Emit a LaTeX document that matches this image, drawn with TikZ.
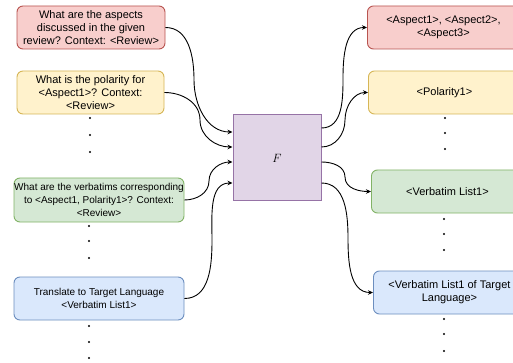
\documentclass[tikz,border=0pt]{standalone}
\usepackage{fontspec}
\setmainfont{Liberation Sans}
\usetikzlibrary{arrows.meta}
\definecolor{redfill}{HTML}{F8CECC}
\definecolor{redline}{HTML}{B85450}
\definecolor{yelfill}{HTML}{FFF2CC}
\definecolor{yelline}{HTML}{D6B656}
\definecolor{grnfill}{HTML}{D5E8D4}
\definecolor{grnline}{HTML}{82B366}
\definecolor{blufill}{HTML}{DAE8FC}
\definecolor{bluline}{HTML}{6C8EBF}
\definecolor{purfill}{HTML}{E1D5E7}
\definecolor{purline}{HTML}{9673A6}
\begin{document}
\begin{tikzpicture}[x=1pt,y=-1pt,
  box/.style={draw, rounded corners=6pt, line width=0.9pt, align=center,
    inner sep=2pt, minimum height=43pt},
  bigtxt/.style={font=\fontsize{11}{13}\selectfont},
  smalltxt/.style={font=\fontsize{10}{13}\selectfont},
  redbox/.style={box, fill=redfill, draw=redline},
  yelbox/.style={box, fill=yelfill, draw=yelline},
  grnbox/.style={box, fill=grnfill, draw=grnline},
  blubox/.style={box, fill=blufill, draw=bluline},
  outbox/.style={anchor=west, minimum width=152pt, bigtxt},
  arr/.style={-{Stealth[length=5pt,width=4.5pt]}, line width=0.9pt},
  dotmark/.style={fill=black}
]
\clip (0,0) rectangle (513,363);
\fill[white] (0,0) rectangle (513,363);

% questions (left column)
\node[redbox, bigtxt, minimum width=148pt] (q1) at (91,27.5)
  {What are the aspects\\discussed in the given\\review? Context: <Review>};
\node[yelbox, bigtxt, minimum width=147pt] (q2) at (90.5,92.5)
  {What is the polarity for\\<Aspect1>? Context:\\<Review>};
\node[grnbox, smalltxt, minimum width=170pt, inner xsep=0pt, minimum height=44pt] (q3) at (99,200)
  {What are the verbatims corresponding\\to <Aspect1, Polarity1>? Context:\\<Review>};
\node[blubox, smalltxt, minimum width=170pt] (q4) at (99,298.5)
  {Translate to Target Language\\<Verbatim List1>};

% model
\node[draw=purline, fill=purfill, line width=1pt, minimum width=88pt,
  minimum height=86pt, font=\fontsize{13}{15}\selectfont] (F) at (277,158) {$F$};

% answers (right column)
\node[redbox, outbox] (a1) at (367,27.5) {<Aspect1>, <Aspect2>,\\<Aspect3>};
\node[yelbox, outbox] (a2) at (368,92.5) {<Polarity1>};
\node[grnbox, outbox] (a3) at (371,191.5) {<Verbatim List1>};
\node[blubox, outbox] (a4) at (373,292.5) {<Verbatim List1 of Target\\Language>};

% inputs into F
\draw[arr] (q1.east) to[out=0,in=90] (194,80) to[out=-90,in=180] ([yshift=26pt]F.west);
\draw[arr] (q2.east) to[out=0,in=90] (200,120) to[out=-90,in=180] ([yshift=11pt]F.west);
\draw[arr] (q3.east) to[out=0,in=-90] (209,181) to[out=90,in=180] ([yshift=-4pt]F.west);
\draw[arr] (q4.east) to[out=0,in=-90] (212,240) to[out=90,in=180] ([yshift=-25pt]F.west);

% outputs from F
\draw[arr] ([yshift=30pt]F.east) to[out=0,in=-90] (343,78) to[out=90,in=180] (a1.west);
\draw[arr] ([yshift=11pt]F.east) to[out=0,in=-90] (345,120) to[out=90,in=180] (a2.west);
\draw[arr] ([yshift=-4pt]F.east) to[out=0,in=90] (345,177) to[out=-90,in=180] (a3.west);
\draw[arr] ([yshift=-25pt]F.east) to[out=0,in=90] (348,238) to[out=-90,in=180] (a4.west);

% continuation dots
\foreach \x/\y in {90/118, 90/135, 90/152, 89/226, 89/241, 89/258,
                   89/326, 89/342, 89/358,
                   445/118, 445/133, 445/149, 444/219, 444/234, 444/250,
                   444/319, 444/334, 444/351}
  \fill[dotmark] (\x,\y) circle (1.1pt);
\end{tikzpicture}
\end{document}
